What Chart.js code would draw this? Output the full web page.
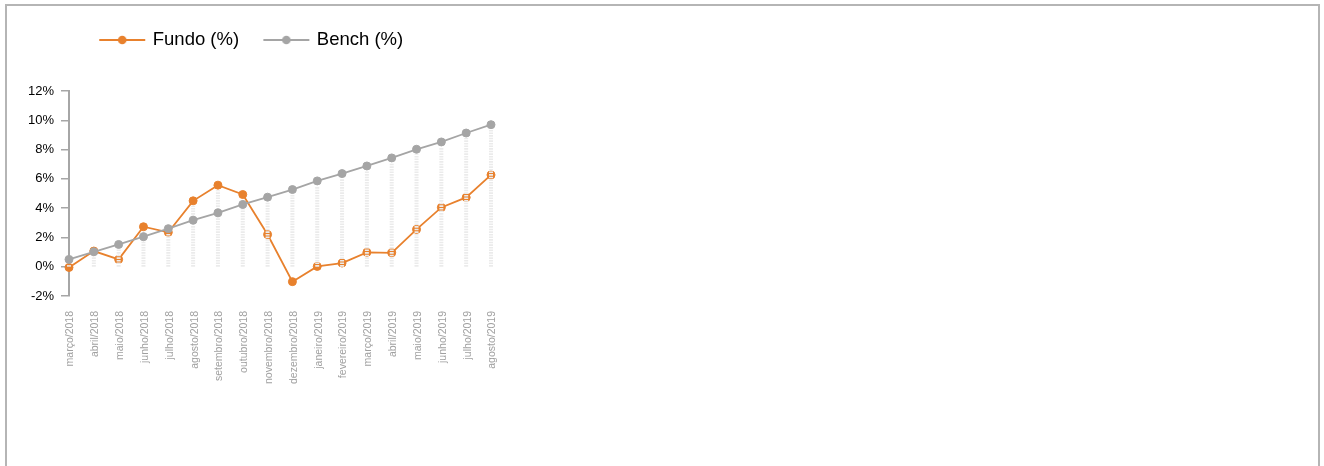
<!DOCTYPE html>
<html><head><meta charset="utf-8">
<script src="https://cdn.jsdelivr.net/npm/chart.js@4.4.1/dist/chart.umd.min.js"></script>
<style>
html,body{margin:0;padding:0;background:#fff;overflow:hidden;}
#wrap{position:relative;width:1324px;height:466px;}
#frame{position:absolute;left:5px;top:4px;width:1315px;height:490px;border:2px solid #b5b5b5;box-sizing:border-box;pointer-events:none;}
canvas{position:absolute;left:0;top:0;}
</style></head><body>
<div id="wrap"><canvas id="c" width="1324" height="466"></canvas><div id="frame"></div></div>
<script>
const categories = ["março/2018","abril/2018","maio/2018","junho/2018","julho/2018","agosto/2018","setembro/2018","outubro/2018","novembro/2018","dezembro/2018","janeiro/2019","fevereiro/2019","março/2019","abril/2019","maio/2019","junho/2019","julho/2019","agosto/2019"];
const fundo = [-0.05, 1.07, 0.5, 2.73, 2.35, 4.5, 5.57, 4.93, 2.2, -1.02, 0.02, 0.25, 0.98, 0.95, 2.55, 4.05, 4.73, 6.27];
const bench = [0.5, 1.02, 1.52, 2.05, 2.6, 3.18, 3.68, 4.25, 4.75, 5.27, 5.86, 6.36, 6.88, 7.43, 8.02, 8.52, 9.13, 9.7];
const seriesNames = ["Fundo (%)", "Bench (%)"];
const yTickValues = [-2, 0, 2, 4, 6, 8, 10, 12];

const ORANGE = '#E8812D';
const GRAY = '#A5A5A5';

Chart.defaults.font.family = "'Liberation Sans', Arial, sans-serif";

function legendMarker(color){
  const c = document.createElement('canvas');
  c.width = 66; c.height = 12;
  const g = c.getContext('2d');
  g.strokeStyle = color; g.lineWidth = 2;
  g.beginPath(); g.moveTo(18, 6); g.lineTo(64, 6); g.stroke();
  g.fillStyle = color;
  g.beginPath(); g.arc(41, 6, 4.3, 0, Math.PI*2); g.fill();
  return c;
}
const markers = [legendMarker(ORANGE), legendMarker(GRAY)];

const placeLegend = {
  id: 'placeLegend',
  afterLayout(chart){
    const lg = chart.legend; if (!lg) return;
    const w = lg.width, h = lg.height;
    lg.left = 75; lg.right = 75 + w;
    lg.top = 20.75; lg.bottom = 20.75 + h;
  }
};

const dropLines = {
  id: 'dropLines',
  afterDatasetDraw(chart, args){
    if (args.index !== 0) return;
    const xs = chart.scales.x, ys = chart.scales.y, ctx = chart.ctx;
    const y0 = ys.getPixelForValue(0);
    ctx.save();
    ctx.strokeStyle = '#ebebeb';
    ctx.lineWidth = 4;
    ctx.setLineDash([1.6, 1]);
    fundo.forEach((f, i) => {
      const top = Math.max(f, bench[i]);
      const py = ys.getPixelForValue(top) + 5;
      if (py >= y0) return;
      const px = xs.getPixelForValue(i);
      ctx.beginPath(); ctx.moveTo(px, y0); ctx.lineTo(px, py); ctx.stroke();
    });
    ctx.restore();
  }
};

new Chart(document.getElementById('c'), {
  type: 'line',
  data: {
    labels: categories,
    datasets: [
      { label: seriesNames[0], data: fundo, order: 1, borderColor: ORANGE, backgroundColor: ORANGE,
        borderWidth: 1.8, pointRadius: 4, pointBorderWidth: 1, pointBackgroundColor: ORANGE, pointBorderColor: ORANGE, tension: 0 },
      { label: seriesNames[1], data: bench, order: 0, borderColor: GRAY, backgroundColor: GRAY,
        borderWidth: 1.8, pointRadius: 4, pointBorderWidth: 1, pointBackgroundColor: GRAY, pointBorderColor: GRAY, tension: 0 }
    ]
  },
  options: {
    responsive: false,
    animation: false,
    devicePixelRatio: 1,
    layout: { padding: { top: 52.5, left: 10, right: 833, bottom: 0 } },
    plugins: {
      tooltip: { enabled: false },
      legend: {
        display: true, position: 'top', align: 'start',
        labels: {
          usePointStyle: true, pointStyleWidth: 58.5, padding: 10,
          color: '#000', font: { size: 18.5 },
          sort: (a, b) => a.datasetIndex - b.datasetIndex,
          generateLabels(chart){
            const items = Chart.defaults.plugins.legend.labels.generateLabels(chart);
            items.forEach(it => { it.pointStyle = markers[it.datasetIndex]; });
            return items;
          }
        }
      }
    },
    scales: {
      x: {
        type: 'category', offset: false,
        grid: { display: false, drawTicks: false },
        border: { display: false },
        ticks: { autoSkip: false, maxRotation: 90, minRotation: 90, padding: 15, labelOffset: 1.5, color: '#a0a0a0', font: { size: 10.5 } },
        afterFit(s){ s.height = 170; }
      },
      y: {
        min: -2, max: 12,
        grid: { display: true, drawOnChartArea: false, drawTicks: true, tickLength: 8, color: '#a6a6a6', lineWidth: 1.5 },
        border: { display: true, color: '#a6a6a6', width: 2 },
        ticks: { padding: 7, color: '#000', font: { size: 13 }, callback: v => v + '%' },
        afterBuildTicks(s){ s.ticks = yTickValues.map(v => ({ value: v })); },
        afterFit(s){ s.width = 59; }
      }
    }
  },
  plugins: [placeLegend, dropLines]
});
</script>
</body></html>
